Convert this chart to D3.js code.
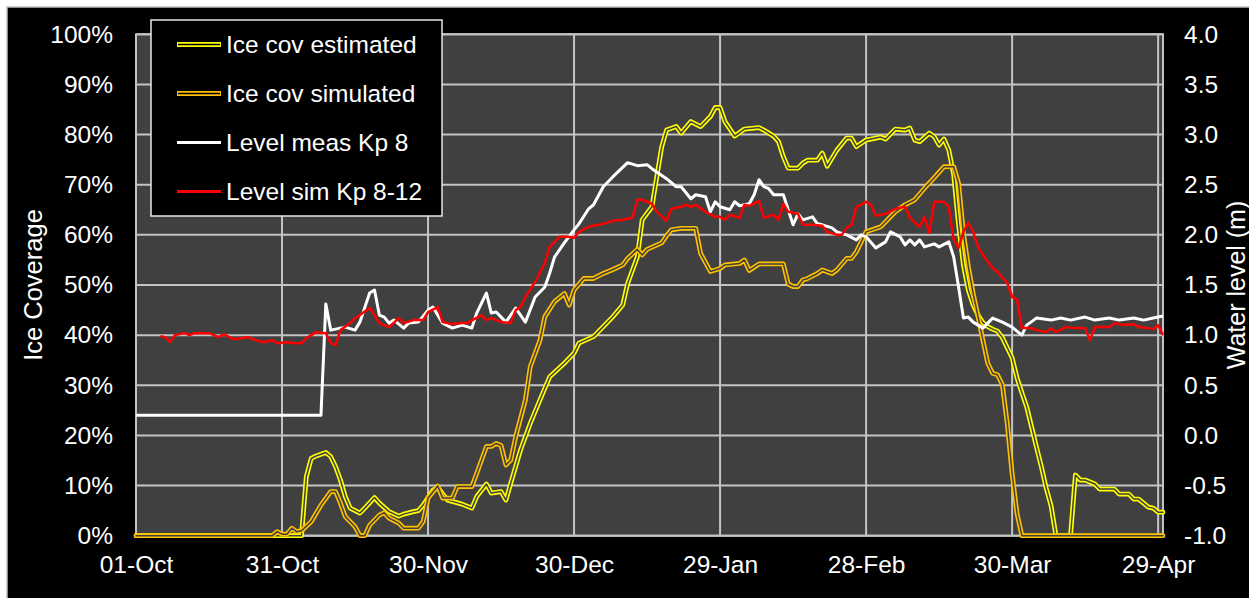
<!DOCTYPE html>
<html>
<head>
<meta charset="utf-8">
<script src="https://cdn.jsdelivr.net/npm/d3@7"></script>
<style>
  body { margin: 0; background: #ffffff; }
  svg { display: block; font-family: "Liberation Sans", Arial, sans-serif; }
</style>
</head>
<body>
<svg id="chart" width="1249" height="598"></svg>
<script>
// Season runs 01-Oct to 30-Apr; series are given as [day offset, value]
const seasonStart = Date.UTC(2018, 9, 1);
const seasonDays = 211;
const tickDays = [0, 30, 60, 90, 120, 150, 180, 210];
const pctTicks = [0, 10, 20, 30, 40, 50, 60, 70, 80, 90, 100];
const levelTicks = [-1, -0.5, 0, 0.5, 1, 1.5, 2, 2.5, 3, 3.5, 4];

// Ice coverage estimated (%)
const iceEstimated = [
  [0,0],[34,0],[35,11.8],[36,15.4],[37,15.9],[39,16.6],[40,15.8],[41,13.8],[42,11.1],[43,7.8],
  [44,5.5],[46,4.5],[47,5.5],[49,7.6],[50,6.5],[52,4.8],[54,3.9],[55,4.3],[57,4.8],[58,5.0],
  [59,6.1],[61,9.1],[62,9.6],[64,7.1],[67,6.3],[69,5.5],[70,7.8],[72,10.3],[73,8.5],[75,8.8],
  [76,7.1],[77,10.5],[79,17.1],[81,22.4],[83,27.1],[85,31.7],[88,34.4],[90,36.4],[91,38.4],
  [94,39.7],[96,41.7],[98,43.7],[100,46.0],[101,50.3],[103,55.6],[104,63.0],[106,65.6],[107,71.6],
  [108,77.5],[109,80.9],[111,81.6],[112,80.3],[114,82.6],[116,81.6],[118,83.6],[119,85.4],[120,85.4],
  [121,82.6],[123,79.7],[125,81.1],[127,81.3],[128,81.4],[129,80.9],[131,79.7],[132,78.6],[133,75.6],
  [134,73.3],[136,73.3],[137,74.3],[138,74.9],[140,74.9],[141,76.3],[142,73.7],[144,76.9],[146,79.3],
  [147,79.3],[148,77.6],[150,78.9],[152,79.3],[153,79.5],[154,79.1],[156,81.1],[158,80.9],[159,81.3],
  [160,78.9],[161,78.6],[163,80.3],[164,79.6],[165,77.9],[166,79.1],[167,76.9],[168,72.0],[169,62.0],
  [170,54.0],[171,49.0],[172,46.0],[173,44.0],[174,42.5],[175,41.7],[176,41.2],[177,40.8],[178,39.5],
  [179,37.5],[180,35.5],[181,31.5],[182,28.5],[183,25.7],[184,21.7],[185,17.7],[186,13.8],[187,9.5],
  [188,6.0],[189,0],[192,0],[193,12.1],[194,11.1],[195,11.1],[197,10.3],[198,9.3],[201,9.3],
  [202,8.3],[204,8.3],[205,7.3],[206,7.3],[208,5.7],[209,5.5],[210,4.7],[211,4.7]
];

// Ice coverage simulated (%)
const iceSimulated = [
  [0,0],[28,0],[29,0.8],[30,0.3],[31,0.3],[32,1.5],[33,0.8],[34,1.0],[36,2.8],[38,6.1],
  [40,8.8],[41,8.8],[42,6.5],[43,3.8],[45,1.8],[46,0],[47,0],[48,2.1],[50,4.1],[51,4.6],
  [52,3.5],[54,2.5],[55,1.5],[58,1.5],[59,2.8],[60,7.5],[62,9.9],[63,7.5],[65,7.5],[66,9.8],
  [69,9.8],[70,12.4],[72,17.8],[73,17.8],[74,18.4],[75,18.0],[76,14.1],[77,15.1],[78,19.7],
  [80,27.1],[81,33.7],[83,39.0],[84,43.7],[86,46.7],[88,48.3],[89,46.0],[90,49.0],[92,51.3],
  [94,51.3],[96,52.3],[98,53.1],[100,54.0],[101,55.3],[103,57.1],[104,56.0],[105,57.1],[108,58.4],
  [109,59.8],[110,61.0],[112,61.3],[115,61.3],[116,56.3],[118,52.7],[120,53.3],[121,54.0],
  [124,54.3],[125,55.0],[126,52.9],[128,54.2],[133,54.2],[134,50.2],[135,49.7],[136,49.7],
  [137,51.0],[138,51.3],[140,52.3],[141,53.0],[143,52.3],[144,53.0],[146,55.3],[147,55.3],
  [148,56.6],[150,60.6],[153,61.6],[156,64.6],[157,65.3],[158,66.0],[160,67.0],[162,69.3],
  [164,71.4],[166,73.6],[168,73.6],[169,70.3],[170,60.3],[171,53.7],[172,48.3],[173,43.7],
  [174,39.0],[175,34.4],[176,32.4],[177,32.1],[178,30.1],[179,22.4],[180,12.4],[181,4.5],
  [182,0],[211,0]
];

// Water level measured at Kp 8 (m)
const levelMeasured = [
  [0,0.2],[38,0.2],[39,1.31],[40,1.05],[43,1.08],[45,1.05],[46,1.13],[48,1.42],[49,1.45],
  [50,1.20],[51,1.18],[52,1.12],[53,1.15],[55,1.07],[56,1.12],[58,1.13],[60,1.25],[61,1.28],
  [63,1.12],[65,1.07],[67,1.10],[69,1.07],[70,1.22],[72,1.42],[73,1.22],[74,1.23],[76,1.13],
  [78,1.27],[80,1.13],[82,1.38],[84,1.48],[85,1.62],[86,1.78],[88,1.92],[90,2.05],[91,2.11],
  [93,2.26],[94,2.30],[96,2.48],[98,2.58],[101,2.72],[103,2.69],[105,2.70],[106,2.66],[109,2.56],
  [111,2.48],[112,2.48],[114,2.36],[115,2.40],[117,2.38],[118,2.23],[119,2.33],[120,2.28],
  [122,2.25],[123,2.33],[124,2.29],[126,2.31],[127,2.40],[128,2.55],[129,2.48],[130,2.46],
  [131,2.40],[133,2.40],[134,2.25],[135,2.10],[136,2.21],[137,2.15],[139,2.18],[140,2.11],
  [141,2.10],[143,2.07],[144,2.03],[146,2.00],[148,1.95],[149,2.00],[150,1.98],[152,1.87],
  [154,1.93],[155,2.03],[157,1.98],[158,1.90],[159,1.95],[160,1.90],[161,1.95],[162,1.88],
  [164,1.91],[165,1.88],[167,1.93],[168,1.78],[169,1.48],[170,1.17],[171,1.18],[172,1.13],
  [174,1.07],[176,1.17],[178,1.13],[180,1.08],[182,1.00],[183,1.10],[185,1.17],[188,1.15],
  [190,1.17],[192,1.15],[195,1.18],[197,1.15],[200,1.17],[202,1.15],[205,1.17],[207,1.15],
  [209,1.17],[211,1.19]
];

// Water level simulated Kp 8-12 (m)
const levelSimulated = [
  [5,0.99],[6,0.98],[7,0.93],[8,1.00],[10,1.02],[11,1.00],[12,1.02],[15,1.02],[17,0.98],
  [18,1.01],[20,0.96],[23,0.98],[24,0.96],[26,0.93],[28,0.95],[29,0.92],[31,0.93],[33,0.92],
  [34,0.92],[35,0.97],[37,1.03],[39,1.02],[40,0.92],[41,0.90],[42,1.05],[44,1.12],[45,1.17],
  [46,1.20],[48,1.27],[49,1.20],[50,1.12],[52,1.08],[54,1.17],[55,1.12],[57,1.15],[59,1.15],
  [60,1.23],[62,1.28],[63,1.13],[65,1.11],[67,1.12],[68,1.12],[71,1.20],[72,1.15],[73,1.17],
  [75,1.13],[77,1.12],[78,1.25],[79,1.28],[80,1.38],[82,1.53],[84,1.72],[85,1.88],[87,1.98],
  [89,1.98],[90,1.97],[91,2.03],[93,2.08],[96,2.11],[98,2.14],[100,2.15],[102,2.17],[103,2.35],
  [104,2.35],[106,2.31],[107,2.23],[109,2.14],[110,2.26],[112,2.28],[113,2.30],[114,2.28],
  [115,2.30],[117,2.23],[119,2.18],[120,2.18],[121,2.15],[122,2.20],[124,2.17],[125,2.30],
  [126,2.29],[128,2.34],[129,2.17],[131,2.20],[132,2.15],[133,2.31],[134,2.23],[136,2.21],
  [137,2.10],[139,2.10],[141,2.09],[142,2.03],[144,2.00],[145,2.00],[146,2.07],[147,2.10],
  [148,2.28],[150,2.33],[151,2.30],[152,2.19],[154,2.21],[156,2.26],[158,2.28],[159,2.17],
  [161,2.08],[162,2.18],[163,2.02],[164,2.33],[166,2.33],[167,2.28],[168,1.95],[169,1.87],
  [170,2.03],[171,2.12],[172,2.03],[173,1.88],[174,1.80],[176,1.67],[177,1.63],[179,1.52],
  [180,1.38],[181,1.36],[182,1.07],[184,1.07],[185,1.05],[187,1.03],[188,1.07],[189,1.03],
  [191,1.08],[193,1.07],[195,1.07],[196,0.95],[197,1.08],[200,1.08],[201,1.12],[203,1.10],
  [205,1.11],[206,1.08],[208,1.07],[209,1.06],[210,1.10],[211,1.00]
];

const legendItems = [
  { label: "Ice cov estimated", color: "#ffff00", double: true },
  { label: "Ice cov simulated", color: "#ffc000", double: true },
  { label: "Level meas Kp 8", color: "#ffffff", double: false },
  { label: "Level sim Kp 8-12", color: "#ff0000", double: false }
];

const DAY = 86400000;
const toDate = d => new Date(seasonStart + d * DAY);

const svg = d3.select("#chart");
const plot = { left: 136, right: 1163, top: 34.3, bottom: 535.7 };
const plotBg = "#404040";
const gridColor = "#c4c4c4";
const fontSize = 24.5;

const x = d3.scaleUtc()
  .domain([toDate(0), toDate(seasonDays)])
  .range([plot.left, plot.right]);
const yPct = d3.scaleLinear().domain([0, 100]).range([plot.bottom, plot.top]);
const yLevel = d3.scaleLinear().domain([-1, 4]).range([plot.bottom, plot.top]);

// Chart frame
svg.append("rect").attr("x", 7).attr("y", 7).attr("width", 1260).attr("height", 620)
  .attr("fill", "#000").attr("stroke", "#bfbfbf").attr("stroke-width", 1.5);

// Plot area
svg.append("rect")
  .attr("x", plot.left).attr("y", plot.top)
  .attr("width", plot.right - plot.left).attr("height", plot.bottom - plot.top)
  .attr("fill", plotBg);

// Gridlines
const grid = svg.append("g").attr("stroke", gridColor).attr("stroke-width", 2);
grid.selectAll("line.h").data(pctTicks).join("line")
  .attr("x1", plot.left).attr("x2", plot.right)
  .attr("y1", d => yPct(d)).attr("y2", d => yPct(d));
grid.selectAll("line.v").data(tickDays).join("line")
  .attr("y1", plot.top).attr("y2", plot.bottom)
  .attr("x1", d => x(toDate(d))).attr("x2", d => x(toDate(d)));
svg.append("rect")
  .attr("x", plot.left).attr("y", plot.top)
  .attr("width", plot.right - plot.left).attr("height", plot.bottom - plot.top)
  .attr("fill", "none").attr("stroke", gridColor).attr("stroke-width", 2);

// Axes (tick labels only)
const leftAxis = svg.append("g").attr("transform", `translate(${plot.left - 23},0)`)
  .call(d3.axisLeft(yPct).tickValues(pctTicks).tickFormat(d => d + "%").tickSize(0).tickPadding(0));
const rightAxis = svg.append("g").attr("transform", `translate(${plot.right + 21},0)`)
  .call(d3.axisRight(yLevel).tickValues(levelTicks).tickFormat(d => d.toFixed(1)).tickSize(0).tickPadding(0));
const bottomAxis = svg.append("g").attr("transform", `translate(0,${plot.bottom + 20})`)
  .call(d3.axisBottom(x).tickValues(tickDays.map(toDate)).tickFormat(d3.utcFormat("%d-%b")).tickSize(0).tickPadding(0));
for (const g of [leftAxis, rightAxis, bottomAxis]) {
  g.select(".domain").remove();
  g.selectAll("text").attr("fill", "#fff").attr("font-size", fontSize)
    .attr("font-family", '"Liberation Sans", Arial, sans-serif');
}
bottomAxis.selectAll("text").attr("dy", "0.71em");

// Axis titles
svg.append("text")
  .attr("transform", `translate(33,${(plot.top + plot.bottom) / 2}) rotate(-90)`)
  .attr("text-anchor", "middle").attr("dominant-baseline", "central")
  .attr("fill", "#fff").attr("font-size", 25.5).text("Ice Coverage");
svg.append("text")
  .attr("transform", `translate(1236,${(plot.top + plot.bottom) / 2}) rotate(-90)`)
  .attr("text-anchor", "middle").attr("dominant-baseline", "central")
  .attr("fill", "#fff").attr("font-size", 25).text("Water level (m)");

// Series
const pctLine = d3.line().x(d => x(toDate(d[0]))).y(d => yPct(d[1]));
const levelLine = d3.line().x(d => x(toDate(d[0]))).y(d => yLevel(d[1]));

function doubleLine(data, gen, color) {
  svg.append("path").datum(data).attr("d", gen)
    .attr("fill", "none").attr("stroke", color).attr("stroke-width", 4.8)
    .attr("stroke-linejoin", "round").attr("stroke-linecap", "round");
  svg.append("path").datum(data).attr("d", gen)
    .attr("fill", "none").attr("stroke", plotBg).attr("stroke-width", 1.5)
    .attr("stroke-linejoin", "round").attr("stroke-linecap", "round");
}
doubleLine(iceEstimated, pctLine, "#ffff00");
doubleLine(iceSimulated, pctLine, "#ffc000");

svg.append("path").datum(levelMeasured).attr("d", levelLine)
  .attr("fill", "none").attr("stroke", "#ffffff").attr("stroke-width", 3)
  .attr("stroke-linejoin", "round");
svg.append("path").datum(levelSimulated).attr("d", levelLine)
  .attr("fill", "none").attr("stroke", "#ff0000").attr("stroke-width", 2.5)
  .attr("stroke-linejoin", "round");

// Legend
const legend = svg.append("g");
legend.append("rect").attr("x", 151).attr("y", 20).attr("width", 291).attr("height", 196)
  .attr("fill", "#000").attr("stroke", "#e6e6e6").attr("stroke-width", 1.5);
const rows = legend.selectAll("g.row").data(legendItems).join("g")
  .attr("transform", (d, i) => `translate(0,${44.5 + i * 49})`);
rows.append("line").attr("x1", 177).attr("x2", 221).attr("y1", 0).attr("y2", 0)
  .attr("stroke", d => d.color).attr("stroke-width", d => d.double ? 4.8 : 3);
rows.filter(d => d.double).append("line").attr("x1", 178).attr("x2", 220).attr("y1", 0).attr("y2", 0)
  .attr("stroke", "#000").attr("stroke-width", 1.5);
rows.append("text").attr("x", 226).attr("y", 0).attr("dominant-baseline", "central")
  .attr("fill", "#fff").attr("font-size", fontSize).text(d => d.label);
</script>
</body>
</html>
